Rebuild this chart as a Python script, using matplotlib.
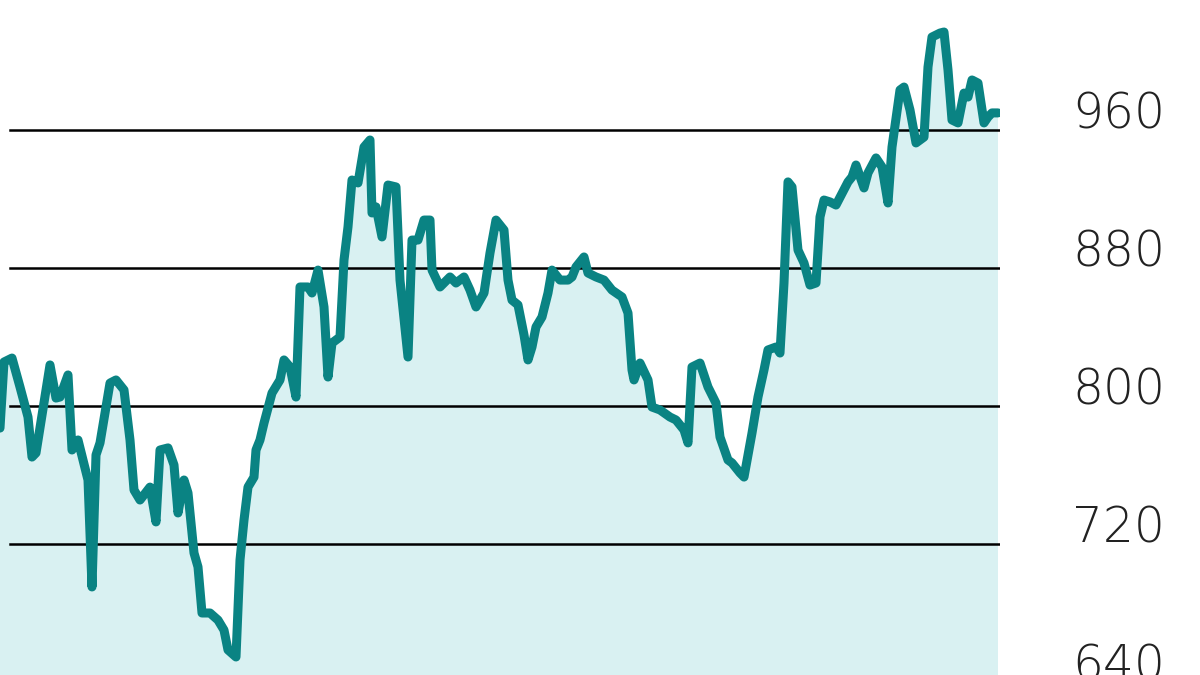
import matplotlib
matplotlib.use("Agg")
import matplotlib.pyplot as plt
import matplotlib.transforms as mtransforms

# trading session number and index level
day = [0, 2, 6, 10, 14, 16, 18, 25, 28, 30, 34, 36, 39, 44, 46, 48, 50, 55, 58, 62,
       65, 67, 70, 75, 78, 80, 84, 87, 89, 92, 94, 97, 99, 101, 105, 109, 112, 114, 118, 120,
       122, 124, 127, 128, 130, 132, 136, 140, 142, 145, 148, 150, 154, 156, 159, 162, 164, 166, 170, 172,
       174, 176, 179, 182, 185, 186, 188, 191, 194, 198, 200, 204, 206, 209, 212, 215, 216, 220, 225, 228,
       232, 235, 238, 242, 245, 248, 252, 254, 256, 259, 262, 264, 266, 268, 271, 274, 276, 280, 284, 286,
       288, 292, 294, 298, 302, 306, 311, 314, 316, 317, 320, 324, 326, 330, 335, 338, 342, 344, 346, 350,
       354, 358, 360, 364, 366, 370, 372, 376, 379, 382, 384, 388, 390, 392, 394, 396, 399, 402, 405, 408,
       410, 412, 415, 418, 424, 426, 428, 432, 434, 438, 441, 444, 446, 450, 452, 455, 458, 462, 464, 466,
       470, 472, 474, 476, 479, 482, 484, 486, 489, 492, 494, 496, 499]
level = [787.2, 825.5, 827.8, 811.0, 793.6, 770.4, 772.8, 823.8, 804.6, 805.2,
         818.0, 774.5, 780.3, 757.1, 695.1, 771.6, 778.6, 813.3, 815.1, 809.3,
         780.3, 751.3, 745.5, 753.0, 732.8, 774.5, 775.7, 765.8, 738.0, 757.1,
         749.6, 714.8, 706.7, 680.0, 680.0, 675.9, 670.1, 658.6, 654.5, 710.7,
         733.9, 753.0, 758.8, 774.5, 780.3, 790.1, 807.5, 815.1, 826.7, 822.6,
         805.2, 869.0, 869.0, 865.5, 878.8, 857.4, 816.8, 836.5, 840.0, 884.6,
         903.8, 931.0, 929.3, 950.1, 954.2, 911.9, 915.4, 898.0, 928.1, 927.0,
         873.0, 828.4, 896.2, 896.2, 907.8, 907.8, 878.8, 869.0, 874.8, 871.3,
         874.8, 867.2, 857.4, 865.5, 888.7, 907.8, 902.0, 873.0, 861.4, 858.6,
         841.2, 826.7, 834.2, 845.8, 851.6, 865.5, 878.8, 873.0, 873.0, 874.8,
         880.6, 886.4, 877.1, 874.8, 873.0, 867.2, 863.2, 853.9, 820.9, 815.1,
         824.9, 815.1, 799.4, 797.7, 793.6, 791.9, 786.1, 778.6, 822.6, 824.9,
         811.0, 801.7, 782.0, 768.7, 767.0, 761.2, 758.8, 784.3, 805.2, 820.9,
         832.5, 834.2, 830.7, 871.3, 929.9, 927.0, 890.4, 882.9, 870.1, 871.3,
         909.6, 919.4, 918.3, 916.5, 929.9, 932.8, 939.7, 926.4, 935.1, 943.8,
         938.6, 917.7, 950.1, 983.2, 984.9, 971.6, 952.5, 955.9, 996.5, 1013.9,
         1016.2, 1016.8, 994.8, 965.8, 964.1, 981.4, 979.1, 989.0, 987.2, 964.1,
         967.5, 969.9, 969.9]

ticks = [640, 720, 800, 880, 960, 1040]

line_color = "#0a8383"
fill_color = "#d9f1f2"

fig = plt.figure(figsize=(12, 6.75), dpi=100)
ax = fig.add_axes([0, 0, 1000 / 1200, 1])

ax.fill_between(day, level, 600, color=fill_color, lw=0, zorder=1)
for t in ticks:
    ax.axhline(t, xmin=0.01, xmax=1, color="black", lw=1.8, zorder=2)
ax.plot(day, level, color=line_color, lw=6.5, solid_joinstyle="round",
        solid_capstyle="round", zorder=3)

ax.set_xlim(0, 500)
ax.set_ylim(644.06, 1035.36)
ax.axis("off")

# axis labels sit just above their gridline, right of the plot
trans = mtransforms.blended_transform_factory(ax.transAxes, ax.transData)
for t in ticks:
    ax.text(1.165, t + 1, str(t), transform=trans, ha="right", va="baseline",
            fontsize=35, fontweight="light", color="#222222", clip_on=False)

fig.savefig("out.png", dpi=100)
